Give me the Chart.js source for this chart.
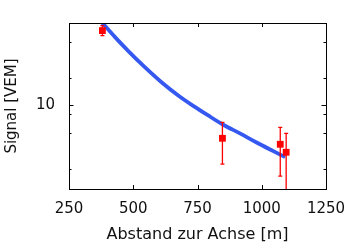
<!DOCTYPE html>
<html>
<head>
<meta charset="utf-8">
<script src="https://cdn.jsdelivr.net/npm/chart.js@4.4.1/dist/chart.umd.min.js"></script>
<style>
  html, body { margin: 0; padding: 0; background: #fff; }
  #wrap { width: 360px; height: 250px; }
</style>
</head>
<body>
<div id="wrap"><canvas id="chart"></canvas></div>
<script>
// measured stations (distance to axis, signal, error bar ends)
const stationDist = [380, 847, 1072, 1095];
const stationSignal = [66, 4.33, 3.72, 3.04];
const errLow = [58, 2.25, 1.66, 0.5];
const errHigh = [75, 6.47, 5.71, 4.9];

// fitted lateral distribution function
const ldfDist = [380, 430, 480, 545, 610, 675, 735, 790, 850, 915, 980, 1045, 1091];
const ldfSignal = [80, 55.6, 39.6, 26.2, 17.9, 12.8, 9.77, 7.76, 6.1, 4.9, 3.89, 3.13, 2.69];

// axis ticks
const xTicks = [250, 500, 750, 1000, 1250];
const yTicks = [2, 5, 8, 10, 20, 50];
const yLabelled = [10];

const font = "'DejaVu Sans', sans-serif";

// error bars drawn from the y scale
const errorBars = {
    id: 'errorBars',
    afterDatasetsDraw(chart) {
        const ctx = chart.ctx;
        const xs = chart.scales.x;
        const ys = chart.scales.y;
        const a = chart.chartArea;
        ctx.save();
        ctx.beginPath();
        ctx.rect(a.left, a.top, a.right - a.left, a.bottom - a.top);
        ctx.clip();
        ctx.strokeStyle = '#ff0000';
        ctx.lineWidth = 1.3;
        stationDist.forEach((d, i) => {
            const x = xs.getPixelForValue(d);
            const y1 = ys.getPixelForValue(errLow[i]);
            const y2 = ys.getPixelForValue(errHigh[i]);
            ctx.beginPath();
            ctx.moveTo(x, y1); ctx.lineTo(x, y2);
            ctx.moveTo(x - 2, y1); ctx.lineTo(x + 2, y1);
            ctx.moveTo(x - 2, y2); ctx.lineTo(x + 2, y2);
            ctx.stroke();
        });
        ctx.restore();
    }
};

// gnuplot style frame with inward ticks on all four sides
const frame = {
    id: 'frame',
    afterDraw(chart) {
        const ctx = chart.ctx;
        const xs = chart.scales.x;
        const ys = chart.scales.y;
        const a = chart.chartArea;
        ctx.save();
        ctx.strokeStyle = '#000';
        ctx.lineWidth = 1;
        ctx.beginPath();
        xTicks.forEach(v => {
            const x = Math.round(xs.getPixelForValue(v)) + 0.5;
            ctx.moveTo(x, a.bottom); ctx.lineTo(x, a.bottom - 4);
            ctx.moveTo(x, a.top); ctx.lineTo(x, a.top + 4);
        });
        yTicks.forEach(v => {
            const y = Math.round(ys.getPixelForValue(v)) + 0.5;
            const len = yLabelled.includes(v) ? 4.5 : 2.5;
            ctx.moveTo(a.left, y); ctx.lineTo(a.left + len, y);
            ctx.moveTo(a.right, y); ctx.lineTo(a.right - len, y);
        });
        ctx.stroke();
        ctx.strokeRect(Math.round(a.left) + 0.5, Math.round(a.top) + 0.5,
            Math.round(a.right - a.left), Math.round(a.bottom - a.top));
        ctx.restore();
    }
};

new Chart(document.getElementById('chart'), {
    type: 'scatter',
    data: {
        datasets: [{
            label: 'Stationen',
            data: stationDist.map((d, i) => ({x: d, y: stationSignal[i]})),
            pointStyle: 'rect',
            pointRadius: 4.8,
            pointBackgroundColor: '#ff0000',
            pointBorderColor: '#ff0000',
            pointBorderWidth: 0,
            order: 0
        }, {
            label: 'LDF',
            type: 'line',
            data: ldfDist.map((d, i) => ({x: d, y: ldfSignal[i]})),
            borderColor: 'rgb(52, 88, 240)',
            borderWidth: 3.8,
            pointRadius: 0,
            cubicInterpolationMode: 'monotone',
            fill: false,
            order: 1
        }]
    },
    options: {
        responsive: true,
        maintainAspectRatio: false,
        animation: false,
        layout: { padding: { left: 0, top: 22, right: 34, bottom: 0 } },
        plugins: { legend: { display: false }, tooltip: { enabled: false } },
        scales: {
            x: {
                type: 'linear',
                min: 250,
                max: 1250,
                grid: { display: false, drawTicks: false },
                border: { display: false },
                afterBuildTicks: scale => { scale.ticks = xTicks.map(v => ({value: v})); },
                afterFit: scale => { scale.height = 61; },
                ticks: {
                    padding: 11,
                    color: '#111',
                    font: { family: font, size: 15 },
                    maxRotation: 0,
                    callback: v => String(v)
                },
                title: {
                    display: true,
                    text: 'Abstand zur Achse [m]',
                    color: '#111',
                    font: { family: font, size: 16 },
                    padding: { top: 0, bottom: 6 }
                }
            },
            y: {
                type: 'logarithmic',
                min: 1.2,
                max: 80,
                grid: { display: false, drawTicks: false },
                border: { display: false },
                afterBuildTicks: scale => { scale.ticks = yTicks.map(v => ({value: v})); },
                afterFit: scale => { scale.width = 69; },
                ticks: {
                    padding: 14,
                    color: '#111',
                    font: { family: font, size: 15 },
                    autoSkip: false,
                    callback: v => yLabelled.includes(v) ? String(v) : ''
                },
                title: {
                    display: true,
                    text: 'Signal [VEM]',
                    color: '#111',
                    font: { family: font, size: 15 },
                    padding: { top: 3.5, bottom: 0 }
                }
            }
        }
    },
    plugins: [errorBars, frame]
});
</script>
</body>
</html>
